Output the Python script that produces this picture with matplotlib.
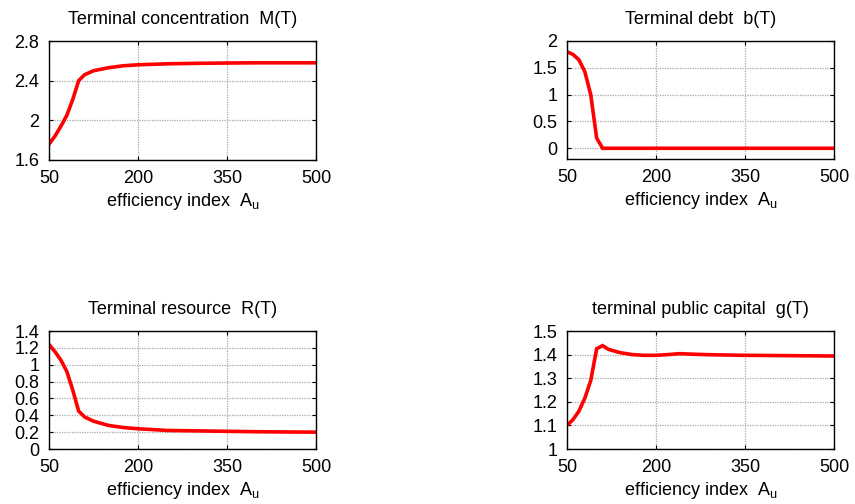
import matplotlib
matplotlib.use("Agg")
import matplotlib.pyplot as plt

plt.rcParams['font.family'] = ['Liberation Sans', 'DejaVu Sans']
plt.rcParams['mathtext.fontset'] = 'custom'
plt.rcParams['mathtext.rm'] = 'Liberation Sans'
plt.rcParams['mathtext.it'] = 'Liberation Sans'
plt.rcParams['mathtext.default'] = 'regular'

# ---- data ----
x_M = [50, 60, 70, 80, 90, 100, 110, 125, 150, 175, 200, 250, 300, 350, 400, 450, 500]
M_T = [1.76, 1.84, 1.94, 2.05, 2.21, 2.40, 2.46, 2.50, 2.53, 2.55, 2.56, 2.57, 2.575, 2.578, 2.58, 2.58, 2.58]

x_b = [50, 60, 70, 80, 90, 100, 110, 150, 200, 300, 400, 500]
b_T = [1.80, 1.75, 1.65, 1.43, 1.00, 0.19, 0.0, 0.0, 0.0, 0.0, 0.0, 0.0]

x_R = [50, 60, 70, 80, 90, 100, 110, 125, 150, 175, 200, 250, 300, 350, 400, 450, 500]
R_T = [1.24, 1.155, 1.055, 0.92, 0.70, 0.45, 0.38, 0.33, 0.28, 0.255, 0.24, 0.22, 0.215, 0.21, 0.205, 0.202, 0.20]

x_g = [50, 60, 70, 80, 90, 100, 110, 120, 140, 160, 180, 200, 220, 240, 270, 300, 350, 400, 450, 500]
g_T = [1.10, 1.124, 1.16, 1.215, 1.29, 1.425, 1.438, 1.422, 1.408, 1.40, 1.397, 1.397, 1.400, 1.404, 1.401, 1.399, 1.397, 1.396, 1.395, 1.394]

x_ticks = [50, 200, 350, 500]
x_ticklabels = ['50', '200', '350', '500']

titles = ['Terminal concentration  M(T)', 'Terminal debt  b(T)',
          'Terminal resource  R(T)', 'terminal public capital  g(T)']
xlabel = 'efficiency index  A$_{u}$'

yticks_M = [1.6, 2.0, 2.4, 2.8]
yticklabels_M = ['1.6', '2', '2.4', '2.8']
yticks_b = [0, 0.5, 1.0, 1.5, 2.0]
yticklabels_b = ['0', '0.5', '1', '1.5', '2']
yticks_R = [0, 0.2, 0.4, 0.6, 0.8, 1.0, 1.2, 1.4]
yticklabels_R = ['0', '0.2', '0.4', '0.6', '0.8', '1', '1.2', '1.4']
yticks_g = [1.0, 1.1, 1.2, 1.3, 1.4, 1.5]
yticklabels_g = ['1', '1.1', '1.2', '1.3', '1.4', '1.5']

W, H = 855, 504
fig = plt.figure(figsize=(W / 100, H / 100), dpi=100)


def make_ax(l, r, t, b):
    return fig.add_axes([l / W, 1 - b / H, (r - l) / W, (b - t) / H])


panels = [
    (make_ax(49, 316, 41, 160), x_M, M_T, titles[0], yticks_M, yticklabels_M, (1.6, 2.8)),
    (make_ax(567, 834, 41, 159), x_b, b_T, titles[1], yticks_b, yticklabels_b, (-0.2, 2.0)),
    (make_ax(49, 316, 331, 449), x_R, R_T, titles[2], yticks_R, yticklabels_R, (0.0, 1.4)),
    (make_ax(567, 834, 331, 449), x_g, g_T, titles[3], yticks_g, yticklabels_g, (1.0, 1.5)),
]

FS = 13
for ax, xs, ys, title, yt, ytl, ylim in panels:
    ax.plot(xs, ys, color='#ff0000', lw=2.6, solid_joinstyle='miter')
    ax.set_xlim(50, 500)
    ax.set_ylim(*ylim)
    ax.set_xticks(x_ticks)
    ax.set_xticklabels(x_ticklabels)
    ax.set_yticks(yt)
    ax.set_yticklabels(ytl)
    ax.grid(True, color='#a8a8a8', linestyle=(0, (1, 1)), lw=0.9)
    ax.tick_params(direction='in', top=True, right=True, length=3, width=0.8,
                   labelsize=FS, pad=7, colors='black')
    ax.set_title(title, fontsize=FS, pad=12)
    ax.set_xlabel(xlabel, fontsize=FS, labelpad=3)
    for s in ax.spines.values():
        s.set_linewidth(1.0)

fig.savefig('out.png', dpi=100)
